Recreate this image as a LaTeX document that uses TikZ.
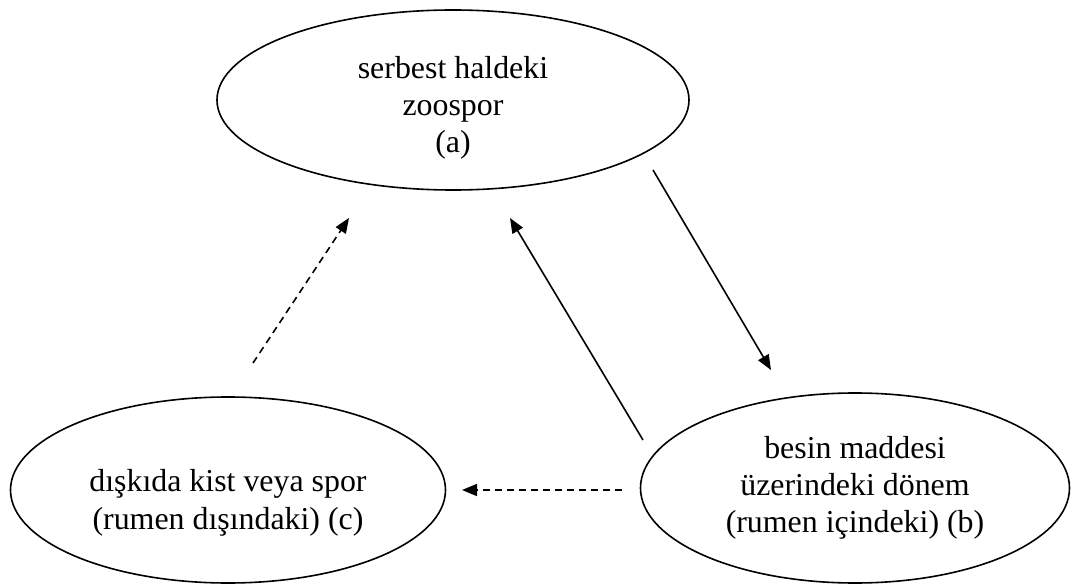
\documentclass[tikz,border=0pt]{standalone}
\usepackage{fontspec}
\setmainfont{Liberation Serif}
\usetikzlibrary{shapes.geometric,arrows.meta}
\newcommand{\lowtext}[2]{\raisebox{-#1}[\height][\depth]{\begin{tabular}{@{}c@{}}#2\end{tabular}}}
\begin{document}
\begin{tikzpicture}[x=1bp,y=-1bp,
  stage/.style={draw,ellipse,line width=1.6bp,inner sep=0pt,align=center,
    font=\fontsize{32}{37.5}\selectfont},
  link/.style={line width=1.6bp,-{Triangle[length=15bp,width=12bp]}},
  dlink/.style={link,dash pattern=on 7bp off 5bp}]
\useasboundingbox (0,0) rectangle (1073,585);
\node[stage,minimum width=472bp,minimum height=180bp] (a) at (453,100) {\lowtext{8bp}{serbest haldeki\\zoospor\\(a)}};
\node[stage,minimum width=429bp,minimum height=190bp] (b) at (855,488) {\lowtext{0bp}{besin maddesi\\üzerindeki dönem\\(rumen içindeki) (b)}};
\node[stage,minimum width=435bp,minimum height=186bp] (c) at (228,490) {\lowtext{13bp}{dışkıda kist veya spor\\(rumen dışındaki) (c)}};
\coordinate (ab1) at (653,170);
\coordinate (ab2) at (771,370);
\coordinate (ba1) at (643,440);
\coordinate (ba2) at (510,218);
\coordinate (ca1) at (253,363);
\coordinate (ca2) at (349,218);
\coordinate (bc1) at (622,490);
\coordinate (bc2) at (462,490);
\draw[link] (ab1) -- (ab2);
\draw[link] (ba1) -- (ba2);
\draw[dlink] (ca1) -- (ca2);
\draw[dlink] (bc1) -- (bc2);
\end{tikzpicture}
\end{document}
